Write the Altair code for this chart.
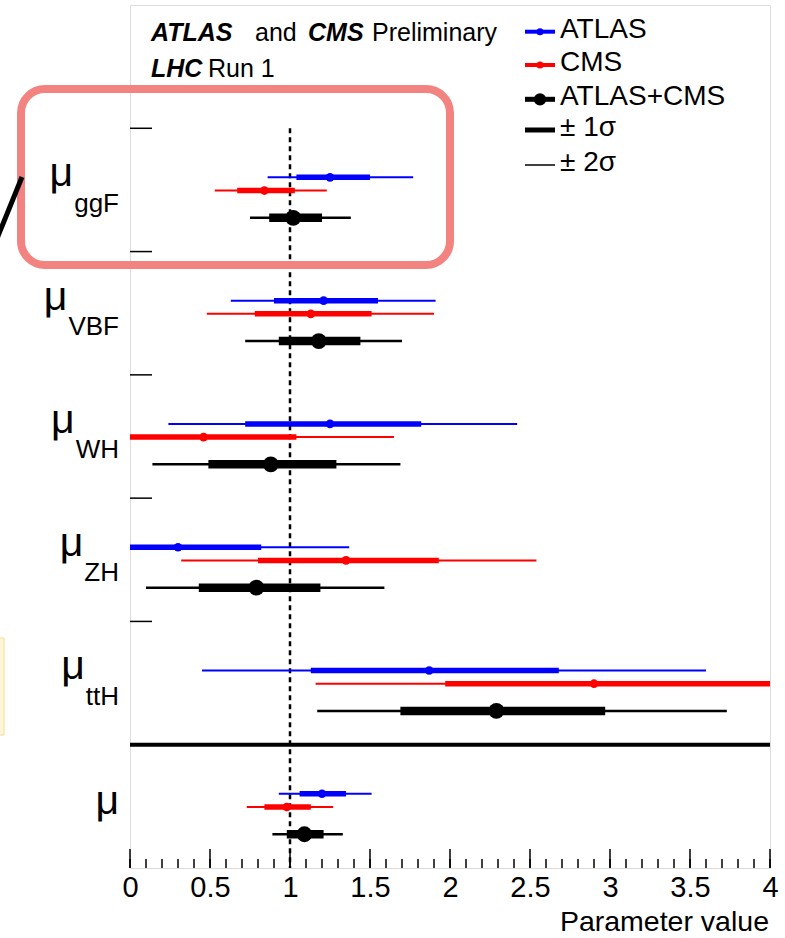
import altair as alt
import pandas as pd

# ---------------- data ----------------
categories = ["ggF", "VBF", "WH", "ZH", "ttH", ""]
experiments = ["ATLAS", "CMS", "ATLAS+CMS"]
colors = ["#0000ff", "#ff0000", "#000000"]

atlas_c   = [1.25, 1.21, 1.25, 0.30, 1.87, 1.20]
atlas_lo1 = [1.04, 0.90, 0.72, 0.00, 1.13, 1.06]
atlas_hi1 = [1.50, 1.55, 1.82, 0.82, 2.68, 1.35]
atlas_lo2 = [0.86, 0.63, 0.24, 0.00, 0.45, 0.93]
atlas_hi2 = [1.77, 1.91, 2.42, 1.37, 3.60, 1.51]

cms_c   = [0.84, 1.13, 0.46, 1.35, 2.90, 0.98]
cms_lo1 = [0.67, 0.78, 0.00, 0.80, 1.97, 0.84]
cms_hi1 = [1.03, 1.51, 1.04, 1.93, 4.00, 1.13]
cms_lo2 = [0.53, 0.48, 0.00, 0.32, 1.16, 0.73]
cms_hi2 = [1.23, 1.90, 1.65, 2.54, 4.00, 1.27]

comb_c   = [1.02, 1.18, 0.88, 0.79, 2.29, 1.09]
comb_lo1 = [0.87, 0.93, 0.49, 0.43, 1.69, 0.98]
comb_hi1 = [1.20, 1.44, 1.29, 1.19, 2.97, 1.21]
comb_lo2 = [0.75, 0.72, 0.14, 0.10, 1.17, 0.89]
comb_hi2 = [1.38, 1.70, 1.69, 1.59, 3.73, 1.33]

x_tick_labels = [0, 0.5, 1, 1.5, 2, 2.5, 3, 3.5, 4]

# ---------------- layout ----------------
W, H = 640, 863
NSLOT = 7
row_offset = {"ATLAS": 0.398, "CMS": 0.505, "ATLAS+CMS": 0.726}
thin_w = {"ATLAS": 2, "CMS": 2, "ATLAS+CMS": 2.5}
thick_w = {"ATLAS": 5.5, "CMS": 5.5, "ATLAS+CMS": 8.5}
dot_size = {"ATLAS": 75, "CMS": 75, "ATLAS+CMS": 250}

series = {
    "ATLAS": (atlas_c, atlas_lo1, atlas_hi1, atlas_lo2, atlas_hi2),
    "CMS": (cms_c, cms_lo1, cms_hi1, cms_lo2, cms_hi2),
    "ATLAS+CMS": (comb_c, comb_lo1, comb_hi1, comb_lo2, comb_hi2),
}
rows = []
for i, cat in enumerate(categories):
    slot = i + 1
    for exp in experiments:
        c, l1, h1, l2, h2 = series[exp]
        rows.append(dict(cat=cat, exp=exp, y=slot + row_offset[exp],
                         c=c[i], lo1=l1[i], hi1=h1[i], lo2=l2[i], hi2=h2[i]))
df = pd.DataFrame(rows)

FONT = "Liberation Sans"
xscale = alt.Scale(domain=[0, 4], nice=False, zero=False)
yscale = alt.Scale(domain=[0, NSLOT], reverse=True, nice=False, zero=False)
xaxis = alt.Axis(values=x_tick_labels, format="~g", tickSize=0, domain=False,
                 grid=False, labelFontSize=29, labelColor="black", labelFont=FONT,
                 labelPadding=5, labelFlush=False, labelOverlap=False, title=None)


def X(f):
    return alt.X(f, type="quantitative", scale=xscale, axis=xaxis)


def Y(f):
    return alt.Y(f, type="quantitative", scale=yscale, axis=None)


layers = []

# dashed line at 1
dash_df = pd.DataFrame({"x": [1.0], "y1": [1.0], "y2": [float(NSLOT)]})
layers.append(alt.Chart(dash_df).mark_rule(color="black", strokeWidth=2.5, strokeDash=[5, 4])
              .encode(x=X("x"), y=Y("y1"), y2="y2"))

for exp, col in zip(experiments, colors):
    b = alt.Chart(df).transform_filter(alt.datum.exp == exp)
    layers.append(b.mark_rule(color=col, strokeWidth=thin_w[exp])
                  .encode(x=X("lo2"), x2="hi2", y=Y("y")))
    layers.append(b.mark_rule(color=col, strokeWidth=thick_w[exp])
                  .encode(x=X("lo1"), x2="hi1", y=Y("y")))
    layers.append(b.mark_point(filled=True, opacity=1, shape="circle", color=col, size=dot_size[exp])
                  .encode(x=X("c"), y=Y("y")))

# separator line above combined mu
sep_df = pd.DataFrame({"y": [6.0]})
layers.append(alt.Chart(sep_df).mark_rule(color="black", strokeWidth=4)
              .encode(y=Y("y"), x=alt.value(0), x2=alt.value(W)))

# left axis ticks (category separators), inward
ytick_df = pd.DataFrame({"y": [1.0, 2.0, 3.0, 4.0, 5.0]})
layers.append(alt.Chart(ytick_df).mark_rule(color="black", strokeWidth=1.5)
              .encode(y=Y("y"), x=alt.value(0), x2=alt.value(22)))

# bottom axis ticks, inward
major = [v / 2 for v in range(9)]
minor = [v / 10 for v in range(41)]
layers.append(alt.Chart(pd.DataFrame({"x": major})).mark_rule(color="black", strokeWidth=1.5)
              .encode(x=X("x"), y=alt.value(H), y2=alt.value(H - 19)))
layers.append(alt.Chart(pd.DataFrame({"x": minor})).mark_rule(color="black", strokeWidth=1.5)
              .encode(x=X("x"), y=alt.value(H), y2=alt.value(H - 9)))

# category labels: mu + subscript
em = {"g": .556, "F": .611, "V": .667, "B": .667, "W": .944, "H": .722, "Z": .611, "t": .278}
SUB_SIZE = 26
MU_SIZE = 41
for i, cat in enumerate(categories):
    slot = i + 1
    one = pd.DataFrame({"t": [cat], "m": ["\u03bc"], "ysub": [slot + 0.675],
                        "ymu": [slot + (0.47 if cat else 0.56)]})
    subw = sum(em.get(ch, 0.6) for ch in cat) * SUB_SIZE
    if cat:
        layers.append(alt.Chart(one).mark_text(align="right", baseline="alphabetic", font=FONT,
                                               fontSize=SUB_SIZE, color="black")
                      .encode(x=alt.value(-11), y=Y("ysub"), text="t:N"))
    layers.append(alt.Chart(one).mark_text(align="right", baseline="alphabetic", font=FONT,
                                           fontSize=MU_SIZE, color="black")
                  .encode(x=alt.value(-11 - subw - (1 if cat else 0)), y=Y("ymu"), text="m:N"))


def txt(s, x, y, size, bold=False, italic=False, align="left"):
    return alt.Chart(pd.DataFrame({"t": [s]})).mark_text(
        align=align, baseline="alphabetic", font=FONT, fontSize=size, color="black",
        fontWeight="bold" if bold else "normal", fontStyle="italic" if italic else "normal"
    ).encode(x=alt.value(x), y=alt.value(y), text="t:N")


# header
layers.append(txt("ATLAS", 21, 36, 25, bold=True, italic=True))
layers.append(txt("and", 125, 36, 25))
layers.append(txt("CMS", 178, 36, 25, bold=True, italic=True))
layers.append(txt("Preliminary", 242, 36, 25))
layers.append(txt("LHC", 21, 72, 25, bold=True, italic=True))
layers.append(txt("Run 1", 78, 72, 25))

# legend
leg = [
    ("ATLAS", "#0000ff", 4, 50, 26.7),
    ("CMS", "#ff0000", 4, 50, 60),
    ("ATLAS+CMS", "#000000", 5, 150, 94.3),
    ("\u00b1 1\u03c3", "#000000", 5, 0, 125),
    ("\u00b1 2\u03c3", "#000000", 1.5, 0, 160),
]
for label, col, lw, dot, yy in leg:
    d1 = pd.DataFrame({"t": [label]})
    layers.append(alt.Chart(d1).mark_rule(color=col, strokeWidth=lw)
                  .encode(x=alt.value(395), x2=alt.value(425), y=alt.value(yy)))
    if dot:
        layers.append(alt.Chart(d1).mark_point(filled=True, opacity=1, color=col, size=dot)
                      .encode(x=alt.value(410), y=alt.value(yy)))
    layers.append(txt(label, 430, yy + 6, 28))

# axis title
layers.append(txt("Parameter value", W - 1, 926, 28.5, align="right"))

# slide annotations
ann = pd.DataFrame({"a": [0]})
layers.append(alt.Chart(ann).mark_rect(fillOpacity=0, stroke="#f38381", strokeWidth=8, cornerRadius=24)
              .encode(x=alt.value(-109), x2=alt.value(320), y=alt.value(84), y2=alt.value(260)))
layers.append(alt.Chart(ann).mark_rule(color="black", strokeWidth=5)
              .encode(x=alt.value(-134), y=alt.value(236), x2=alt.value(-108), y2=alt.value(172)))
layers.append(alt.Chart(ann).mark_rect(fill="#fff6d5", stroke="#f3dc94", strokeWidth=1)
              .encode(x=alt.value(-131), x2=alt.value(-126), y=alt.value(633), y2=alt.value(730)))

chart = alt.layer(*layers).properties(
    width=W, height=H,
    autosize=alt.AutoSizeParams(type="none"),
    padding={"left": 130, "top": 5, "right": 15, "bottom": 70},
    background="white",
).configure_view(stroke="black", strokeWidth=2).configure(font=FONT)

chart.save("out.html", embed_options={"renderer": "svg", "actions": False})
